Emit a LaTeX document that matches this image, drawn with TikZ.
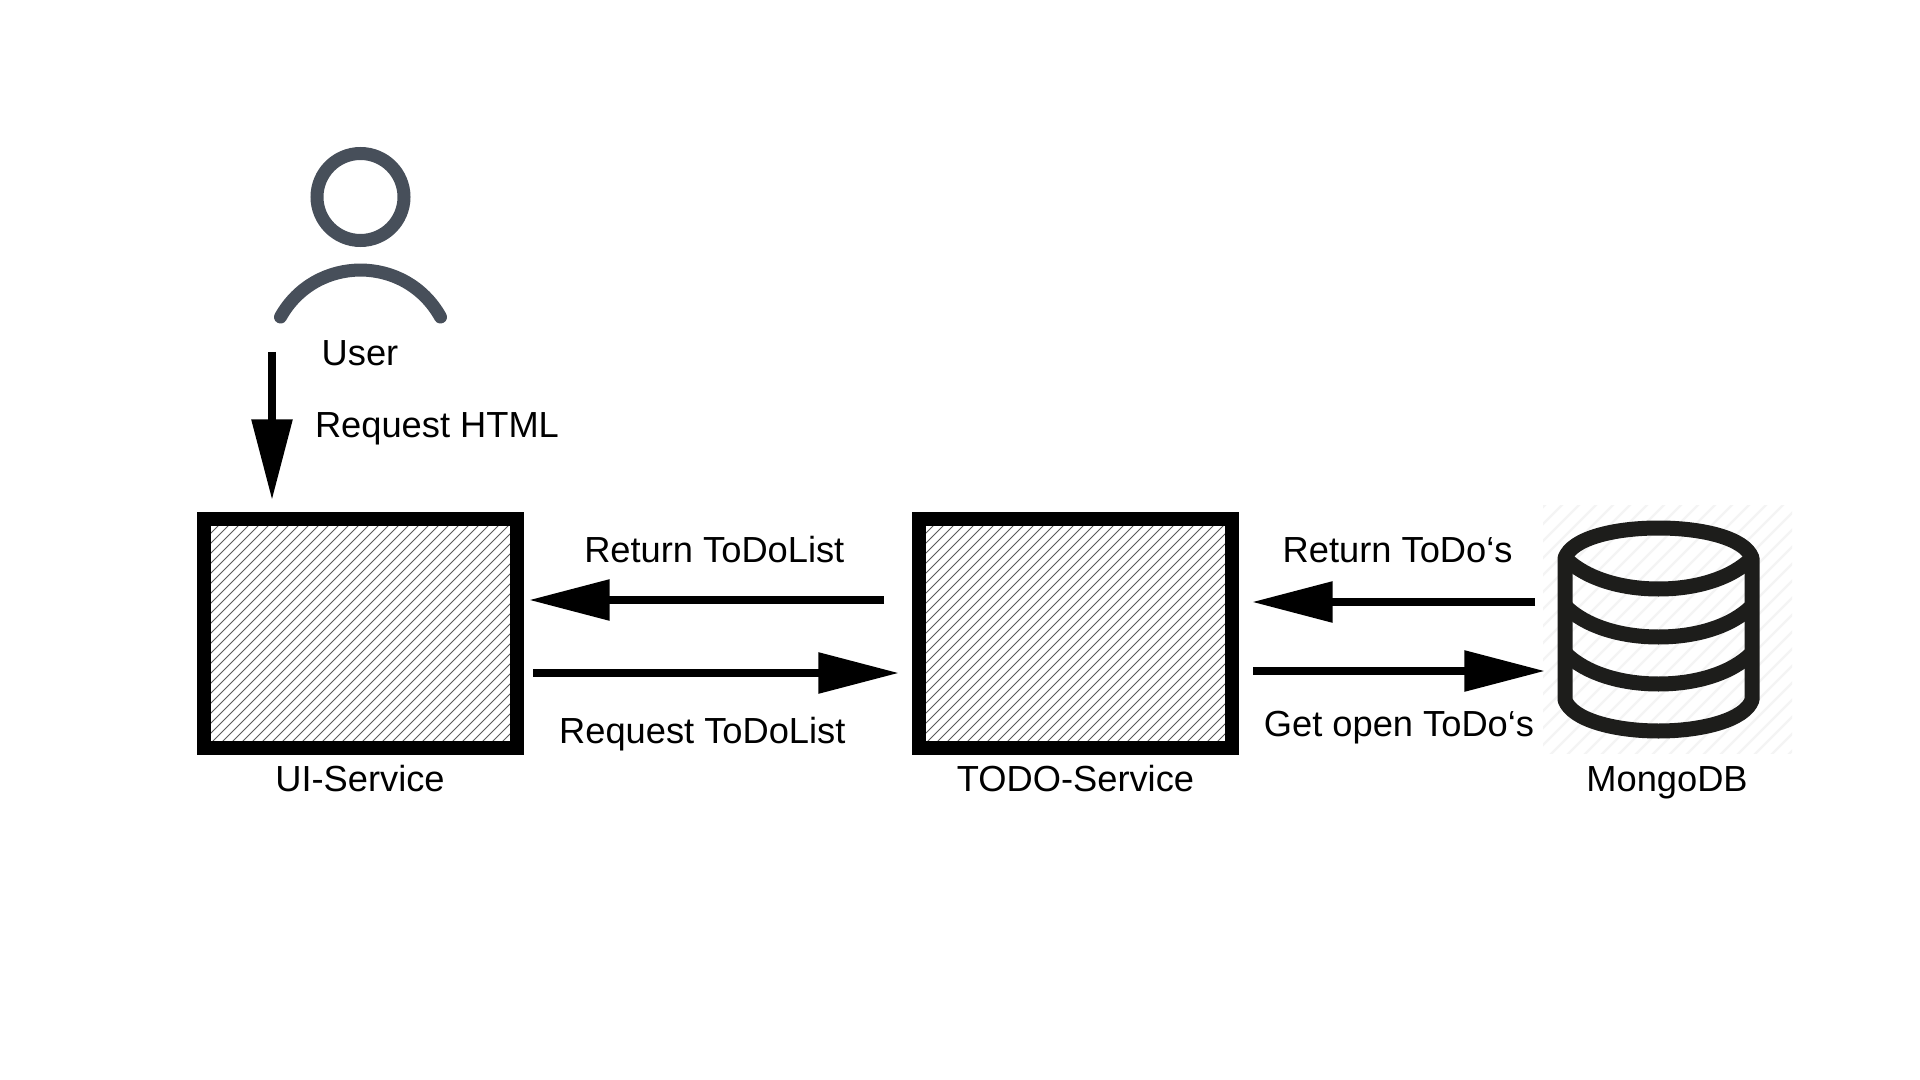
\documentclass[tikz,border=0pt]{standalone}
\usepackage{fontspec}
\setmainfont{Liberation Sans}
\usetikzlibrary{arrows.meta}
\definecolor{usergray}{HTML}{474F5A}
\definecolor{dbblack}{HTML}{1D1D1B}
\definecolor{dbhatch}{HTML}{F4F4F4}
\definecolor{hatchgray}{HTML}{5A5A5A}
\tikzset{
  x=.75pt,y=-.75pt,
  label text/.style={anchor=base,inner sep=0pt,font=\fontsize{27.2pt}{30pt}\selectfont},
  service/.style={draw=black,line width=10.875pt,rectangle,inner sep=0pt,minimum width=234.4pt,minimum height=171.4pt,
    path picture={\foreach \k in {-30,...,30}{\draw[hatchgray,line width=.75pt] (\k*10-180,180)--(\k*10+180,-180);}}},
  flow/.style={line width=6pt,-{Triangle[length=60.5pt,width=29.5pt,sep=0pt]}},
  usericon/.style={draw=usergray,line width=9.75pt,line cap=round},
  dbline/.style={draw=dbblack,line width=11.25pt,line join=round},
}
\begin{document}
\begin{tikzpicture}
\useasboundingbox[fill=white] (0,0) rectangle (1920,1080);

% database backdrop
\begin{scope}
  \clip (1543,505) rectangle (1792,753);
  \foreach \k in {-10,...,21}{\draw[dbhatch,line width=1.8pt] (1543+\k*17-100,760)--(1543+\k*17+170,490);}
\end{scope}

% services
\node[service] (ui) at (360.5,633.5) {};
\node[service] (todo) at (1075.5,633.5) {};

% user icon
\node[circle,draw=usergray,line width=9.75pt,minimum size=65.25pt,inner sep=0pt] (head) at (360.5,197) {};
\draw[usericon] (280.5,317) .. controls (315.4,254.4) and (405.6,254.4) .. (440.5,317);

% database icon
\draw[dbline] (1565,558) .. controls (1572,538) and (1615,528) .. (1658.5,528) .. controls (1702,528) and (1745,538) .. (1752,558)
  -- (1752,700) .. controls (1745,720) and (1702,731) .. (1658.5,731) .. controls (1615,731) and (1572,720) .. (1565,700) -- cycle;
\draw[dbline] (1565,558) .. controls (1585,578) and (1620,589) .. (1658.5,589) .. controls (1697,589) and (1732,578) .. (1752,558);
\draw[dbline] (1565,606) .. controls (1585,626) and (1620,637) .. (1658.5,637) .. controls (1697,637) and (1732,626) .. (1752,606);
\draw[dbline] (1565,653) .. controls (1585,673) and (1620,684) .. (1658.5,684) .. controls (1697,684) and (1732,673) .. (1752,653);

% connector ends
\coordinate (userout) at (272,352);
\coordinate (uiin) at (272,500);
\coordinate (rlstart) at (884,600);
\coordinate (rlend) at (529,600);
\coordinate (qlstart) at (533,673);
\coordinate (qlend) at (899,673);
\coordinate (rdstart) at (1535,602);
\coordinate (rdend) at (1252,602);
\coordinate (gostart) at (1253,671);
\coordinate (goend) at (1545,671);

\draw[flow] (userout) -- (uiin);
\draw[flow] (rlstart) -- (rlend);
\draw[flow] (qlstart) -- (qlend);
\draw[flow] (rdstart) -- (rdend);
\draw[flow] (gostart) -- (goend);

% labels
\node[label text] (lbluser) at (360,366) {User};
\node[label text] (lblhtml) at (437,437) {Request HTML};
\node[label text] (lblrl) at (714.3,562) {Return ToDoList};
\node[label text] (lblql) at (702.3,743) {Request ToDoList};
\node[label text] (lblrd) at (1397.6,562) {Return ToDo‘s};
\node[label text] (lblgo) at (1399,736) {Get open ToDo‘s};
\node[label text] (lblui) at (360,791) {UI-Service};
\node[label text] (lbltodo) at (1075.5,791) {TODO-Service};
\node[label text] (lblmongo) at (1667,791) {MongoDB};
\end{tikzpicture}
\end{document}
